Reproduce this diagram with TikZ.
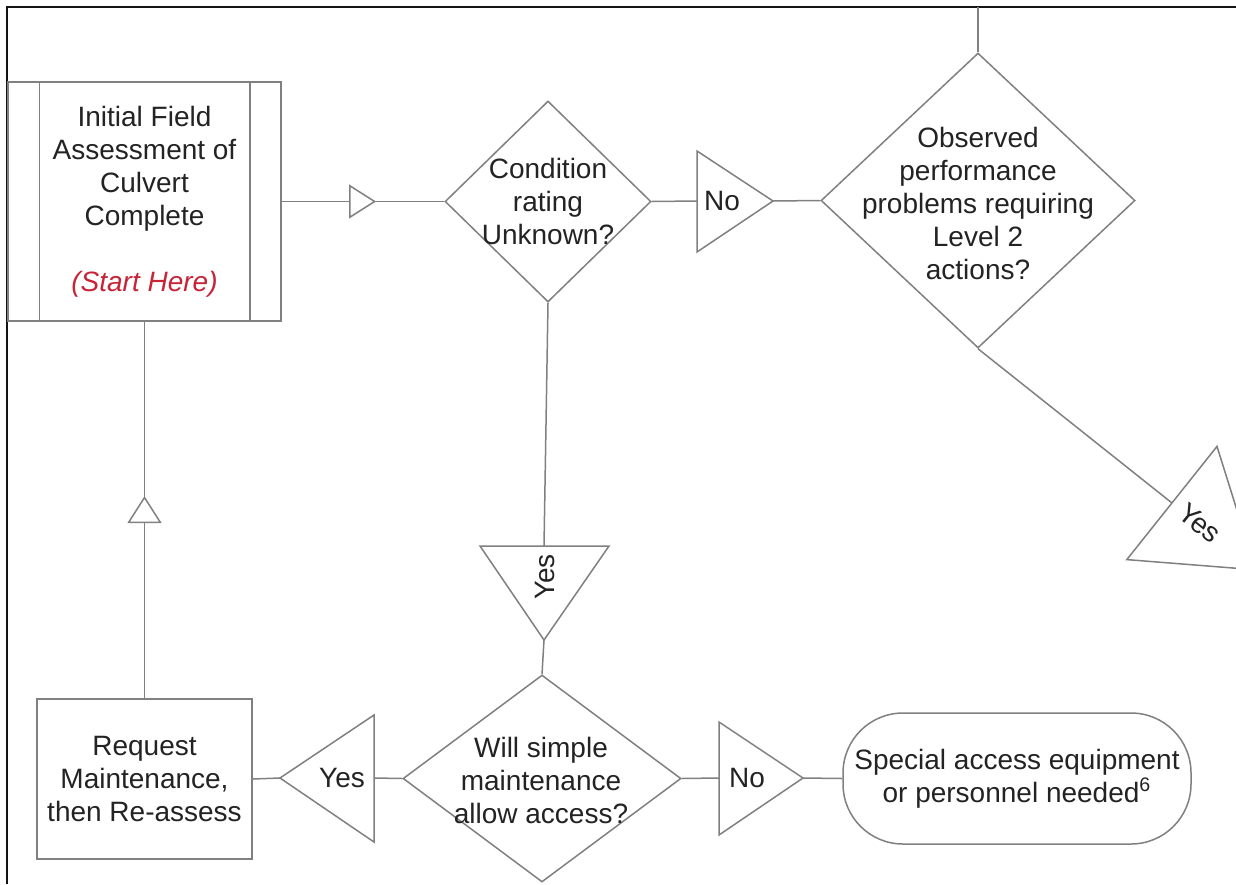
\documentclass[tikz,border=0pt]{standalone}
\usepackage{fontspec}
\setmainfont{Liberation Sans}
\usetikzlibrary{shapes.geometric, decorations.markings, arrows.meta}
\definecolor{lgray}{RGB}{128,128,128}
\definecolor{tgray}{RGB}{35,35,35}
\definecolor{sred}{RGB}{200,35,55}
\definecolor{frame}{RGB}{20,20,20}
\begin{document}
\begin{tikzpicture}[x=0.5pt, y=-0.5pt,
  ln/.style={draw=lgray, line width=0.75pt},
  txt/.style={font=\fontsize{14pt}{16.5pt}\selectfont, text=tgray, align=center, inner sep=0pt},
  boxnode/.style={rectangle, ln, inner sep=0pt},
  dia/.style={diamond, ln, inner sep=0pt},
  term/.style={rectangle, ln, rounded corners=30pt, inner sep=0pt},
  tri/.style={ln, fill=white, line join=miter},
  midarrow/.style={postaction={decorate}, decoration={markings,
     mark=at position #1 with {\arrow{Triangle[length=13.5pt,width=17pt,fill=white]}}}}
]
\useasboundingbox (0,0) rectangle (1236,884);
\fill[white] (0,0) rectangle (1236,884);
\draw[frame, line width=1.25pt] (7,884) -- (7,7) -- (1236,7);

% nodes
\node[boxnode, minimum width=136.5pt, minimum height=119.5pt] (start) at (144.5,201.5) {};
\draw[ln] ([xshift=16pt]start.north west) -- ([xshift=16pt]start.south west);
\draw[ln] ([xshift=-16pt]start.north east) -- ([xshift=-16pt]start.south east);
\node[txt] (startt) at (144.5,201.5) {Initial Field\\Assessment of\\Culvert\\Complete\\[16.5pt]\textcolor{sred}{\itshape (Start Here)}};

\node[boxnode, minimum width=107.5pt, minimum height=80pt] (req) at (144.5,779) {};
\node[txt] (reqt) at (144.5,779) {Request\\Maintenance,\\then Re-assess};

\node[dia, minimum width=103pt, minimum height=100.5pt] (d1) at (548,201.5) {};
\node[txt] (d1t) at (548,201.5) {Condition\\rating\\Unknown?};

\node[dia, minimum width=157pt, minimum height=147.5pt] (d2) at (978,200.5) {};
\node[txt] (d2t) at (978,203) {Observed\\performance\\problems requiring\\Level 2\\actions?};

\node[dia, minimum width=139pt, minimum height=103.5pt] (d3) at (542,778.5) {};
\node[txt] (d3t) at (541,780) {Will simple\\maintenance\\allow access?};

\node[term, minimum width=174pt, minimum height=65.5pt] (term) at (1017,778.5) {};
\node[txt] (termt) at (1017,778.5) {Special access equipment\\or personnel needed\textsuperscript{6}};

% triangle labels
\coordinate (n1b) at (697,201); \coordinate (n1a) at (773,201);
\draw[tri] (697,151) -- (773,201) -- (697,252) -- cycle;
\node[txt] (n1) at (722,201) {No};

\coordinate (ydb) at (544,546); \coordinate (yda) at (544,640);
\draw[tri] (480,546) -- (609,546) -- (544,640) -- cycle;
\node[txt, rotate=90] (yd) at (545,577) {Yes};

\coordinate (ylb) at (374,778); \coordinate (yla) at (280,778);
\draw[tri] (374,715) -- (374,842) -- (280,778) -- cycle;
\node[txt] (yl) at (342,778) {Yes};

\coordinate (n2b) at (719,778); \coordinate (n2a) at (803,778);
\draw[tri] (719,722) -- (719,835) -- (803,778) -- cycle;
\node[txt] (n2) at (747,778) {No};

\coordinate (yrb) at (1172,503);
\draw[tri] (1217,446.4) -- (1126.8,559.6) -- (1255.6,569.8) -- cycle;
\node[txt, rotate=-39] (yr) at (1200,523) {Yes};

\coordinate (topend) at (978,7);

% connectors
\draw[ln, midarrow=0.58] (start.east) -- (d1.west);
\draw[ln] (d1.east) -- (n1b);
\draw[ln] (n1a) -- (d2.west);
\draw[ln] (d2.north) -- (topend);
\draw[ln] (d2.south) -- (yrb);
\draw[ln] (d1.south) -- (ydb);
\draw[ln] (yda) -- (d3.north);
\draw[ln] (d3.west) -- (ylb);
\draw[ln] (yla) -- (req.east);
\draw[ln] (d3.east) -- (n2b);
\draw[ln] (n2a) -- (term.west);
\draw[ln, midarrow=0.537] (req.north) -- (start.south);
\end{tikzpicture}
\end{document}
